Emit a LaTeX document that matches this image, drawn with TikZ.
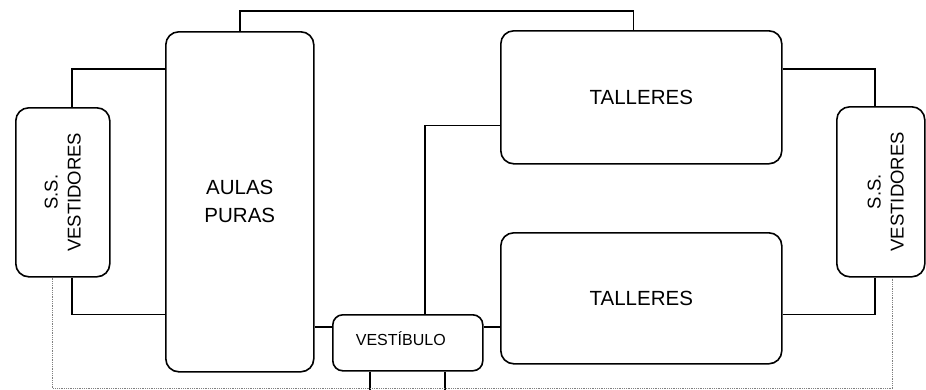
\documentclass[tikz,border=0pt]{standalone}
\usepackage{fontspec}
\setmainfont{Liberation Sans}
\usetikzlibrary{calc}

\tikzset{
    room/.style={draw, line width=1.6pt, rounded corners=13pt, inner sep=0pt},
    link/.style={line width=1.6pt},
    service/.style={draw=gray, line width=0.8pt, densely dotted},
}

\begin{document}
\begin{tikzpicture}[x=1pt,y=-1pt]
    \useasboundingbox (0,0) rectangle (926,389);

    % rooms
    \node[room, anchor=north west, minimum width=94pt, minimum height=169pt] (ssL) at (15,107) {};
    \node[room, anchor=north west, minimum width=148pt, minimum height=340pt,
          align=center, font=\fontsize{20.5}{28}\selectfont] (aulas) at (165,31) {AULAS\\PURAS};
    \node[room, anchor=north west, minimum width=281pt, minimum height=133pt,
          font=\fontsize{20.5}{24}\selectfont] (tallA) at (500,30) {TALLERES};
    \node[room, anchor=north west, minimum width=281pt, minimum height=131pt,
          font=\fontsize{20.5}{24}\selectfont] (tallB) at (500,232) {TALLERES};
    \node[room, anchor=north west, minimum width=88pt, minimum height=170pt] (ssR) at (836,106) {};
    \node[room, anchor=north west, minimum width=150pt, minimum height=56pt,
          rounded corners=10pt] (vest) at (332,314) {};

    % rotated labels
    \node[rotate=90, align=center, font=\fontsize{18.5}{23}\selectfont] (ssLtext) at (ssL) {S.S.\\VESTIDORES};
    \node[rotate=90, align=center, font=\fontsize{18.5}{23}\selectfont] (ssRtext) at ($(ssR)+(5,0)$) {S.S.\\VESTIDORES};
    \node[font=\fontsize{16}{18}\selectfont] (vesttext) at ($(vest)+(-7,-4)$) {VESTÍBULO};

    % connections
    \draw[link] ($(ssL.north)+(9,0)$) |- ($(aulas.north west)+(0,38)$);
    \draw[link] ($(ssL.south)+(9,0)$) |- ($(aulas.south west)+(0,-58)$);
    \draw[link] (aulas.north) -- ++(0,-20) -| ($(tallA.north)+(-8,0)$);
    \draw[link] ($(tallA.north east)+(0,39)$) -| ($(ssR.north)+(-6,0)$);
    \draw[link] ($(tallB.south east)+(0,-50)$) -| ($(ssR.south)+(-6,0)$);
    \draw[link] ($(vest.north west)+(0,13)$) -- (aulas.east |- {$(vest.north west)+(0,13)$});
    \draw[link] ($(vest.north east)+(0,13)$) -- (tallB.west |- {$(vest.north east)+(0,13)$});
    \draw[link] ($(vest.north west)+(93,0)$) |- ($(tallA.west)+(0,28)$);

    % stubs below the hall
    \draw[link] ($(vest.south west)+(38,0)$) -- ++(0,19);
    \draw[link] ($(vest.south west)+(113,0)$) -- ++(0,19);

    % dotted service line
    \draw[service] ($(ssL.south)+(-10,0)$) -- ++(0,111) -| ($(ssR.south)+(12,0)$);
\end{tikzpicture}
\end{document}
